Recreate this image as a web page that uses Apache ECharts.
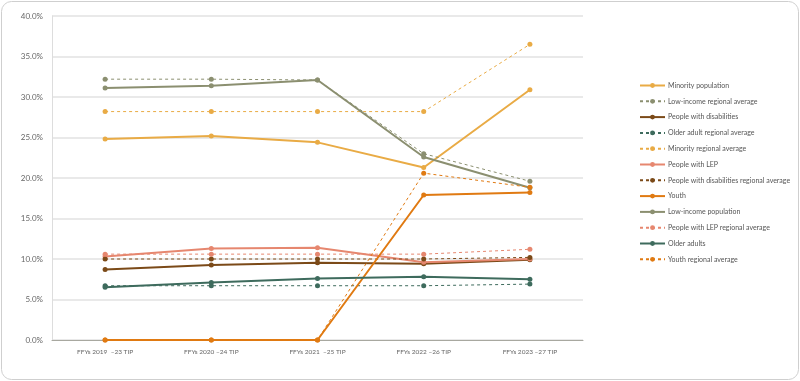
<!DOCTYPE html>
<html><head><meta charset="utf-8">
<script src="https://cdn.jsdelivr.net/npm/echarts@6/dist/echarts.min.js"></script>
<style>html,body{margin:0;padding:0;background:#fff}#c{width:800px;height:381px}</style>
</head><body><div id="c"></div>
<script>
const categories = ["FFYs 2019  –23 TIP","FFYs 2020 –24 TIP","FFYs 2021  –25 TIP","FFYs 2022 –26 TIP","FFYs 2023 –27 TIP"];
const minorityPop = [24.8, 25.2, 24.4, 21.3, 30.9];
const lowIncomeAvg = [32.2, 32.2, 32.1, 23.0, 19.6];
const disabilitiesPop = [8.7, 9.25, 9.55, 9.4, 9.9];
const olderAvg = [6.7, 6.7, 6.7, 6.7, 6.9];
const minorityAvg = [28.2, 28.2, 28.2, 28.2, 36.5];
const lepPop = [10.3, 11.3, 11.4, 9.6, 10.0];
const disabilitiesAvg = [10.0, 10.0, 10.0, 10.0, 10.2];
const youthPop = [0, 0, 0, 17.9, 18.2];
const lowIncomePop = [31.1, 31.4, 32.1, 22.6, 18.8];
const lepAvg = [10.6, 10.6, 10.6, 10.6, 11.2];
const olderPop = [6.5, 7.1, 7.6, 7.8, 7.5];
const youthAvg = [0, 0, 0, 20.6, 18.85];
const yTicks = [0, 5, 10, 15, 20, 25, 30, 35, 40];

const C = {minority:'#E9AB45', low:'#8B8F70', dis:'#7B4A18', older:'#3E6B5D', lep:'#E6876F', youth:'#E07A12'};
function s(name, data, color, dashed){
  return {name, type:'line', data, symbol:'circle', symbolSize:5,
    lineStyle:{color, width: dashed?1:2, type: dashed?[3,3]:'solid'},
    itemStyle:{color}, emphasis:{disabled:true}};
}
const series = [
  s('Minority population', minorityPop, C.minority, false),
  s('Low-income regional average', lowIncomeAvg, C.low, true),
  s('People with disabilities', disabilitiesPop, C.dis, false),
  s('Older adult regional average', olderAvg, C.older, true),
  s('Minority regional average', minorityAvg, C.minority, true),
  s('People with LEP', lepPop, C.lep, false),
  s('People with disabilities regional average', disabilitiesAvg, C.dis, true),
  s('Youth', youthPop, C.youth, false),
  s('Low-income population', lowIncomePop, C.low, false),
  s('People with LEP regional average', lepAvg, C.lep, true),
  s('Older adults', olderPop, C.older, false),
  s('Youth regional average', youthAvg, C.youth, true)
];
const chart = echarts.init(document.getElementById('c'), null, {renderer:'canvas'});
chart.setOption({
  animation:false,
  textStyle:{fontFamily:'Lato'},
  graphic:[{type:'rect', shape:{x:1.5,y:1.5,width:797,height:378,r:10}, style:{fill:'none', stroke:'#cfcfcf', lineWidth:1}, z:-1}],
  grid:{left:52, right:217, top:16, bottom:41},
  xAxis:{type:'category', data:categories, boundaryGap:true,
    axisLine:{lineStyle:{color:'#a8a8a0', width:1}}, axisTick:{show:false},
    axisLabel:{color:'#666', fontSize:6.5, margin:8}},
  yAxis:{type:'value', min:yTicks[0], max:yTicks[yTicks.length-1], interval:5,
    axisLine:{show:true, lineStyle:{color:'#ddd'}},
    splitLine:{lineStyle:{color:'#e2e2e2', width:1.5}},
    axisLabel:{color:'#666', fontSize:8, margin:9, formatter:v=>v.toFixed(1)+'%'}},
  legend:{orient:'vertical', left:639, top:82, padding:0, itemWidth:25, itemHeight:6, itemGap:8.8,
    textStyle:{color:'#555', fontSize:7, padding:[0,0,0,-2]},
    data:series.map(x=>x.name)},
  series
});
</script></body></html>
